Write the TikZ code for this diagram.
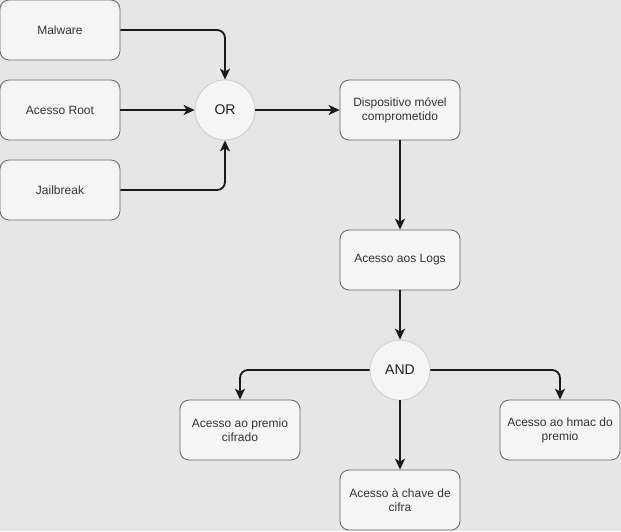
\documentclass[tikz,border=0pt]{standalone}
\usepackage{fontspec}
\setmainfont{Liberation Sans}
\usetikzlibrary{arrows.meta}
\definecolor{bg}{HTML}{E6E6E6}
\definecolor{boxfill}{HTML}{F5F5F5}
\definecolor{boxline}{HTML}{666666}
\definecolor{circline}{HTML}{CCCCCC}
\definecolor{txt}{HTML}{333333}
\definecolor{edge}{HTML}{1A1A1A}
\begin{document}
\begin{tikzpicture}[x=1pt,y=-1pt,
  box/.style={draw=boxline,fill=boxfill,rounded corners=9pt,minimum width=120pt,minimum height=60pt,
    align=center,inner sep=0pt,line width=0.8pt,text=txt,font=\fontsize{12}{14}\selectfont},
  gate/.style={circle,draw=circline,fill=boxfill,minimum size=60pt,inner sep=0pt,line width=0.8pt,
    text=txt!60!black,font=\fontsize{14}{16}\selectfont},
  conn/.style={draw=edge,line width=1.8pt,rounded corners=8pt,-{Stealth[length=11pt,width=10pt,inset=3pt]}}]
\fill[bg] (0,0) rectangle (621,531);
\useasboundingbox (0,0) rectangle (621,531);
\node[box] (malware) at (60,30) {Malware};
\node[box] (root) at (60,110) {Acesso Root};
\node[box] (jail) at (60,190) {Jailbreak};
\node[gate] (or) at (225,110) {OR};
\node[box] (disp) at (400,110) {Dispositivo móvel\\comprometido};
\node[box] (logs) at (400,260) {Acesso aos Logs};
\node[gate] (and) at (400,370) {AND};
\node[box] (premio) at (240,430) {Acesso ao premio\\cifrado};
\node[box] (chave) at (400,500) {Acesso à chave de\\cifra};
\node[box] (hmac) at (560,430) {Acesso ao hmac do\\premio};
\draw[conn] (malware.east) -| (or.north);
\draw[conn] (root.east) -- (or.west);
\draw[conn] (jail.east) -| (or.south);
\draw[conn] (or.east) -- (disp.west);
\draw[conn] (disp.south) -- (logs.north);
\draw[conn] (logs.south) -- (and.north);
\draw[conn] (and.west) -| (premio.north);
\draw[conn] (and.south) -- (chave.north);
\draw[conn] (and.east) -| (hmac.north);
\end{tikzpicture}
\end{document}
